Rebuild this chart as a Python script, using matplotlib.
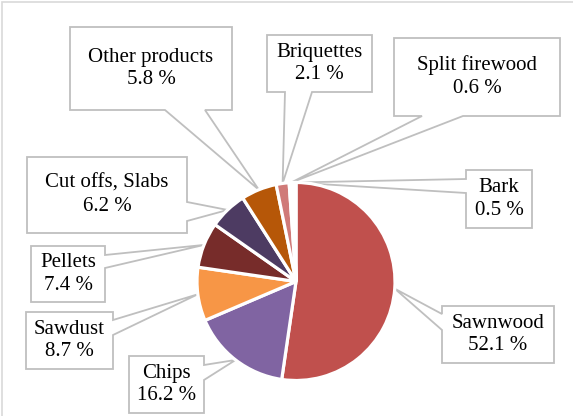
import numpy as np
import matplotlib.pyplot as plt
from matplotlib.patches import Polygon, Rectangle

W, H = 573, 416

products = ["Sawnwood", "Chips", "Sawdust", "Pellets", "Cut offs, Slabs",
            "Other products", "Briquettes", "Split firewood", "Bark"]
shares = [52.1, 16.2, 8.7, 7.4, 6.2, 5.8, 2.1, 0.6, 0.5]
colors = ["#C0504D", "#8064A2", "#F79646", "#772C2A", "#4D3B62",
          "#B65708", "#D07A78", "#FFFFFF", "#FFFFFF"]

# callout boxes in pixel coords: (x0, y0, x1, y1), side of pointer, pointer base
boxes = [
    ((442, 306, 554, 363), "left", (314, 330)),
    ((129, 356, 204, 413), "right", (365, 380)),
    ((26, 312, 113, 369), "right", (320, 335)),
    ((31, 246, 105, 302), "right", (255, 268)),
    ((27, 157, 187, 233), "right", (202, 221)),
    ((70, 27, 232, 110), "bottom", (165, 205)),
    ((267, 35, 372, 92), "bottom", (285, 312)),
    ((394, 38, 560, 116), "bottom", (422, 463)),
    ((466, 170, 532, 228), "left", (179, 193)),
]

fig = plt.figure(figsize=(W / 100, H / 100), dpi=100)
ax = fig.add_axes([0, 0, 1, 1])

cx, cy, r = 296, 281.5, 99
wedges, _ = ax.pie(shares, colors=colors, startangle=90, counterclock=False,
                   center=(cx, H - cy), radius=r,
                   wedgeprops=dict(edgecolor="white", linewidth=2.3))


def callout(box, side, base, tip):
    x0, y0, x1, y1 = box
    a, b = base
    pts = [(x0, y0), (x1, y0)]
    if side == "right":
        pts += [(x1, a), tip, (x1, b)]
    pts += [(x1, y1)]
    if side == "bottom":
        pts += [(b, y1), tip, (a, y1)]
    pts += [(x0, y1)]
    if side == "left":
        pts += [(x0, b), tip, (x0, a)]
    return [(px, H - py) for px, py in pts]


for w, name, val, (box, side, base) in zip(wedges, products, shares, boxes):
    mid = np.deg2rad((w.theta1 + w.theta2) / 2)
    tip = (cx + r * np.cos(mid), cy - r * np.sin(mid))
    poly = Polygon(callout(box, side, base, tip), closed=True, facecolor="white",
                   edgecolor="#BFBFBF", linewidth=1.3, zorder=0.5)
    ax.add_patch(poly)
    x0, y0, x1, y1 = box
    ax.text((x0 + x1) / 2, H - (y0 + y1) / 2, f"{name}\n{val} %",
            ha="center", va="center", multialignment="center",
            family="Liberation Serif", fontsize=15, linespacing=1.28,
            color="#000000", zorder=5)

# chart area border
ax.add_patch(Rectangle((2, -10), W + 10, H - 2 + 10, fill=False,
                       edgecolor="#D9D9D9", linewidth=1.2, zorder=0))

ax.set_xlim(0, W)
ax.set_ylim(0, H)
ax.set_aspect("auto")
ax.axis("off")

fig.savefig("out.png", dpi=100)
